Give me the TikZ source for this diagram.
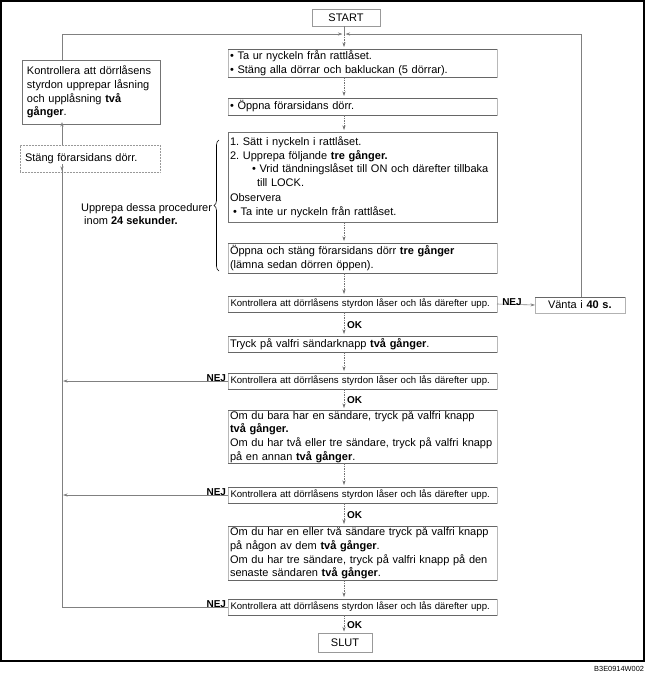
\documentclass[tikz,border=0pt]{standalone}
\usepackage{fontspec}
\setmainfont{Liberation Sans}
\usetikzlibrary{arrows.meta,decorations.pathreplacing}
\frenchspacing
\begin{document}
\begin{tikzpicture}[x=1pt,y=-1pt,
  every node/.style={font=\fontsize{11}{13.6}\selectfont, inner sep=0pt, outer sep=0pt},
  mbox/.style={draw=black!28, line width=0.6pt, text width=265pt, inner xsep=2pt, align=left},
  cbox/.style={mbox, font=\fontsize{9.6}{12}\selectfont, text width=264pt, inner xsep=2.5pt, minimum height=16pt},
  lbox/.style={draw=black!55, line width=0.6pt, align=left},
  sbox/.style={draw=black!40, line width=0.6pt, align=center},
  hline/.style={draw=black!60, line width=0.7pt},
  conn/.style={draw=black!55, line width=0.5pt, dash pattern=on 1.5pt off 1pt, -{Stealth[length=4.5pt,width=3pt]}, shorten >=2pt},
  gline/.style={draw=black!50, line width=0.6pt},
  tip/.style={-{Stealth[length=4.5pt,width=3pt]}},
  lab/.style={font=\fontsize{10}{12}\selectfont\bfseries}
]
\useasboundingbox (0,0) rectangle (645,681);
\draw[line width=1.2pt] (1,1) rectangle (644,661);

% main column
\node[sbox, minimum width=68pt, minimum height=17pt] (start) at (346,17.5) {START};
\node[mbox, minimum height=28pt] (b1) at (362.5,63) {• Ta ur nyckeln från rattlåset.\\• Stäng alla dörrar och bakluckan (5 dörrar).};
\node[mbox, minimum height=17pt] (b2) at (362.5,106.5) {• Öppna förarsidans dörr.};
\node[mbox, draw=black!55, minimum height=90pt] (b3) at (362.5,177) {1. Sätt i nyckeln i rattlåset.\\
2. Upprepa följande \textbf{tre gånger.}\\
\hspace*{22pt}• Vrid tändningslåset till ON och därefter tillbaka\\
\hspace*{27pt}till LOCK.\\[1.5pt]
Observera\\
\hspace*{3pt}• Ta inte ur nyckeln från rattlåset.};
\node[mbox, minimum height=30pt] (b4) at (362.5,258) {Öppna och stäng förarsidans dörr \textbf{tre gånger}\\(lämna sedan dörren öppen).};
\node[cbox] (c1) at (362.5,304) {Kontrollera att dörrlåsens styrdon låser och lås därefter upp.};
\node[mbox, minimum height=16pt] (b5) at (362.5,344) {Tryck på valfri sändarknapp \textbf{två gånger}.};
\node[cbox] (c2) at (362.5,381) {Kontrollera att dörrlåsens styrdon låser och lås därefter upp.};
\node[mbox, minimum height=53pt] (b6) at (362.5,436.5) {Om du bara har en sändare, tryck på valfri knapp\\\textbf{två gånger.}\\Om du har två eller tre sändare, tryck på valfri knapp\\på en annan \textbf{två gånger}.};
\node[cbox] (c3) at (362.5,495) {Kontrollera att dörrlåsens styrdon låser och lås därefter upp.};
\node[mbox, minimum height=54pt] (b7) at (362.5,553) {Om du har en eller två sändare tryck på valfri knapp\\på någon av dem \textbf{två gånger}.\\Om du har tre sändare, tryck på valfri knapp på den\\senaste sändaren \textbf{två gånger}.};
\node[cbox] (c4) at (362.5,607) {Kontrollera att dörrlåsens styrdon låser och lås därefter upp.};
\node[sbox, minimum width=54pt, minimum height=19pt] (slut) at (345,643) {SLUT};

\foreach \n in {b1,b2,b4,c1,b5,c2,b6,c3,b7,c4}
  \draw[hline] (\n.north west) -- (\n.north east) (\n.south west) -- (\n.south east);

% right box
\node[draw=black!30, line width=0.6pt, text width=70pt, inner xsep=10pt, minimum height=16pt, align=left, anchor=west] (vanta) at (535,305) {\hspace*{3pt}Vänta i \textbf{40 s.}};
\draw[hline] (vanta.north west) -- (vanta.north east);

% left boxes
\node[lbox, text width=128pt, inner xsep=5pt, minimum height=64pt] (kb) at (91,92) {Kontrollera att dörrlåsens\\styrdon upprepar låsning\\och upplåsning \textbf{två}\\\textbf{gånger}.};
\node[lbox, draw=black!40, dash pattern=on 1pt off 0.5pt, text width=130pt, inner xsep=5pt, minimum height=27pt] (stang) at (90,158.5) {Stäng förarsidans dörr.};

% brace and its text
\draw[line width=0.6pt, decorate, decoration={brace, amplitude=5pt}] (219,271) -- (219,140);
\node[align=left, anchor=east] (brtext) at (212,214) {Upprepa dessa procedurer\\\ inom \textbf{24 sekunder.}};

% coordinates for the loop lines
\coordinate (j) at (344,34);
\coordinate (lc) at (62,34);
\coordinate (rc) at (581,34);

% spine
\draw[gline] (start.south -| j) -- (j);
\draw[conn] (j) -- (b1.north -| j);
\draw[conn] (b1.south -| j) -- (b2.north -| j);
\draw[conn] (b2.south -| j) -- (b3.north -| j);
\draw[conn] (b3.south -| j) -- (b4.north -| j);
\draw[conn] (b4.south -| j) -- (c1.north -| j);
\draw[conn] (c1.south -| j) -- node[lab, anchor=west, xshift=3pt, yshift=-1pt] (ok1) {OK} (b5.north -| j);
\draw[conn] (b5.south -| j) -- (c2.north -| j);
\draw[conn] (c2.south -| j) -- node[lab, anchor=west, xshift=3pt, yshift=-1pt] (ok2) {OK} (b6.north -| j);
\draw[conn] (b6.south -| j) -- (c3.north -| j);
\draw[conn] (c3.south -| j) -- node[lab, anchor=west, xshift=3pt, yshift=-1pt] (ok3) {OK} (b7.north -| j);
\draw[conn] (b7.south -| j) -- (c4.north -| j);
\draw[conn] (c4.south -| j) -- node[lab, anchor=west, xshift=3pt, yshift=-1pt] (ok4) {OK} (slut.north -| j);

% top loop
\draw[gline, tip] (kb.north -| lc) -- (lc) -- ([xshift=-1.5pt]j);
\draw[gline, tip] (vanta.north -| rc) -- (rc) -- ([xshift=1.5pt]j);

% NEJ to the right
\draw[gline, tip] (c1.east) -- node[lab, anchor=south, yshift=-1pt, xshift=-4pt] (nej1) {NEJ} (vanta.west);

% NEJ to the left
\draw[gline] (c4.west) -- node[lab, pos=0, anchor=south east, xshift=-2pt, yshift=-1pt] (nej4) {NEJ} (c4.west -| lc) -- ([yshift=3pt]stang.south -| lc);
\draw[gline, tip] ([yshift=8pt]stang.south -| lc) -- ([yshift=1pt]stang.south -| lc);
\draw[gline, tip] (c2.west) -- node[lab, pos=0, anchor=south east, xshift=-2pt, yshift=-1pt] (nej2) {NEJ} ([xshift=1pt]c2.west -| lc);
\draw[gline, tip] (c3.west) -- node[lab, pos=0, anchor=south east, xshift=-2pt, yshift=-1pt] (nej3) {NEJ} ([xshift=1pt]c3.west -| lc);
\draw[gline, tip] (stang.north -| lc) -- ([yshift=2pt]kb.south -| lc);

\node[font=\fontsize{7.4}{9}\selectfont, anchor=east] (code) at (644,668.5) {B3E0914W002};
\end{tikzpicture}
\end{document}
